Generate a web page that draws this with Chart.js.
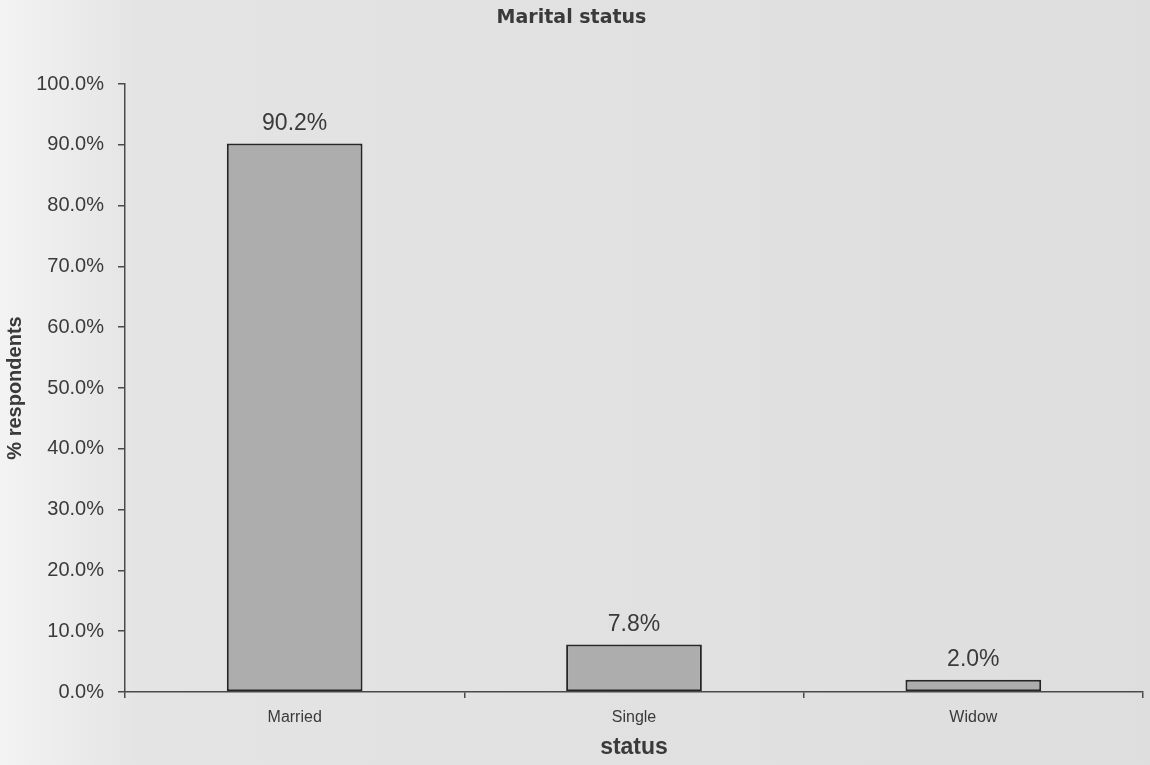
<!DOCTYPE html>
<html>
<head>
<meta charset="utf-8">
<title>Marital status</title>
<script src="https://cdn.jsdelivr.net/npm/chart.js@4.4.1/dist/chart.umd.min.js"></script>
<style>
  html, body { margin: 0; padding: 0; background: #e2e2e2; }
  #wrap { width: 1150px; height: 765px; position: relative; }
</style>
</head>
<body>
<div id="wrap"><canvas id="chart" width="1150" height="765"></canvas></div>
<script>
// Share of respondents by marital status
const categories = ['Married', 'Single', 'Widow'];
const percentRespondents = [90.2, 7.8, 2.0];
const yTicks = [0, 10, 20, 30, 40, 50, 60, 70, 80, 90, 100];

const FONT = '"Liberation Sans", Arial, Helvetica, sans-serif';
const TITLE_FONT = '"DejaVu Sans", Verdana, sans-serif';
const INK = '#3a3a3a';
const AXIS = '#4a4a4a';

// Paper-like background, slightly lighter toward the left edge
const paperBackground = {
  id: 'paperBackground',
  beforeDraw(chart) {
    const { ctx, width, height } = chart;
    const g = ctx.createLinearGradient(0, 0, width, 0);
    g.addColorStop(0, '#f3f3f3');
    g.addColorStop(0.12, '#e4e4e4');
    g.addColorStop(1, '#dedede');
    ctx.save();
    ctx.fillStyle = g;
    ctx.fillRect(0, 0, width, height);
    ctx.restore();
  }
};

// Value labels above each bar
const valueLabels = {
  id: 'valueLabels',
  afterDatasetsDraw(chart) {
    const { ctx } = chart;
    const meta = chart.getDatasetMeta(0);
    const data = chart.data.datasets[0].data;
    ctx.save();
    ctx.font = '23px ' + FONT;
    ctx.fillStyle = INK;
    ctx.textAlign = 'center';
    ctx.textBaseline = 'alphabetic';
    meta.data.forEach((bar, i) => {
      ctx.fillText(data[i].toFixed(1) + '%', bar.x, bar.y - 14);
    });
    ctx.restore();
  }
};

new Chart(document.getElementById('chart'), {
  type: 'bar',
  data: {
    labels: categories,
    datasets: [{
      data: percentRespondents,
      backgroundColor: '#adadad',
      borderColor: '#262626',
      borderWidth: 2,
      borderSkipped: false,
      barPercentage: 0.4,
      categoryPercentage: 1.0
    }]
  },
  options: {
    responsive: false,
    animation: false,
    devicePixelRatio: 1,
    layout: { padding: { left: 0, right: 7, top: 0, bottom: 0 } },
    plugins: {
      legend: { display: false },
      tooltip: { enabled: false },
      title: {
        display: true,
        text: 'Marital status',
        color: INK,
        font: { family: TITLE_FONT, size: 19, weight: 'bold', lineHeight: 1.2 },
        padding: { top: 7, bottom: 54.2 }
      }
    },
    scales: {
      x: {
        offset: true,
        grid: {
          display: true,
          offset: true,
          drawOnChartArea: false,
          drawTicks: true,
          tickLength: 6,
          color: AXIS,
          lineWidth: 1.5
        },
        border: { display: true, color: AXIS, width: 1.5 },
        ticks: {
          color: INK,
          font: { family: FONT, size: 16 },
          padding: 10
        },
        title: {
          display: true,
          text: 'status',
          color: INK,
          font: { family: FONT, size: 23, weight: 'bold', lineHeight: 1.2 },
          padding: { top: 0, bottom: 4 }
        },
        afterFit(scale) { scale.height = 73; }
      },
      y: {
        min: 0,
        max: 100,
        afterBuildTicks(scale) { scale.ticks = yTicks.map(v => ({ value: v })); },
        grid: {
          display: true,
          drawOnChartArea: false,
          drawTicks: true,
          tickLength: 7,
          color: AXIS,
          lineWidth: 1.5
        },
        border: { display: true, color: AXIS, width: 1.5 },
        ticks: {
          color: INK,
          font: { family: FONT, size: 20 },
          padding: 14,
          callback: v => Number(v).toFixed(1) + '%'
        },
        title: {
          display: true,
          text: '% respondents',
          color: INK,
          font: { family: FONT, size: 20, weight: 'bold', lineHeight: 1.2 },
          padding: { top: 3, bottom: 0 }
        },
        afterFit(scale) { scale.width = 125; }
      }
    }
  },
  plugins: [paperBackground, valueLabels]
});
</script>
</body>
</html>
